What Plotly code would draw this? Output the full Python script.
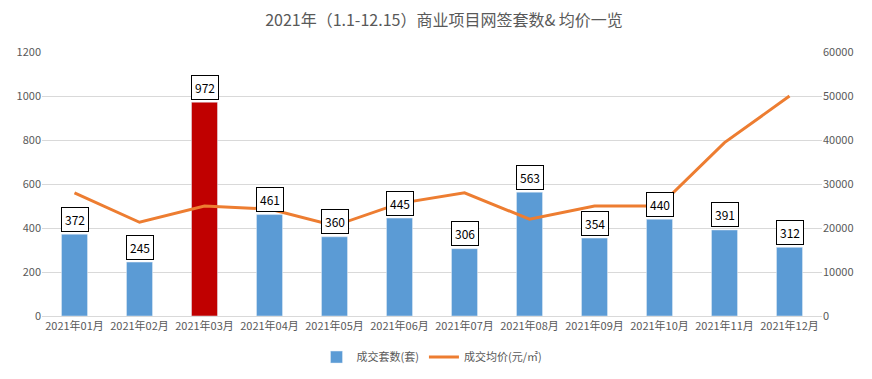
import plotly.graph_objects as go

months = ["2021年01月", "2021年02月", "2021年03月", "2021年04月", "2021年05月", "2021年06月",
          "2021年07月", "2021年08月", "2021年09月", "2021年10月", "2021年11月", "2021年12月"]
units = [372, 245, 972, 461, 360, 445, 306, 563, 354, 440, 391, 312]
prices = [28000, 21300, 25000, 24300, 20500, 25600, 28000, 22000, 25000, 25000, 39400, 50000]
highlight_month = "2021年03月"

font_family = "Noto Sans CJK SC, Microsoft YaHei, sans-serif"
bar_colors = ["#C00000" if m == highlight_month else "#5B9BD5" for m in months]

fig = go.Figure()
fig.add_trace(go.Bar(x=months, y=units, name="成交套数(套)", marker_color=bar_colors,
                     width=0.4, yaxis="y"))
fig.add_trace(go.Scatter(x=months, y=prices, name="成交均价(元/㎡)", mode="lines",
                         line=dict(color="#ED7D31", width=3), yaxis="y2"))

for m, v in zip(months, units):
    fig.add_annotation(x=m, y=v, xref="x", yref="y", text=str(v), showarrow=False,
                       yshift=15, bgcolor="white", bordercolor="black", borderwidth=1,
                       borderpad=3, font=dict(size=12, color="black", family=font_family))

fig.update_layout(
    width=872, height=379,
    margin=dict(l=34, r=58, t=44, b=71),
    paper_bgcolor="white", plot_bgcolor="white",
    title=dict(text="2021年（1.1-12.15）商业项目网签套数&amp; 均价一览", x=0.5, xanchor="center",
               y=0.968, yanchor="middle", font=dict(size=16, color="#595959", family=font_family)),
    font=dict(family=font_family, size=11, color="#595959"),
    bargap=0.6,
    showlegend=True,
    legend=dict(orientation="h", x=0.5, xanchor="center", yref="container", y=0.079,
                yanchor="middle", itemwidth=30, tracegroupgap=0,
                font=dict(size=11, color="#595959")),
    xaxis=dict(showgrid=False, showline=True, linecolor="#D9D9D9", ticks="", automargin=False,
               tickfont=dict(size=11, color="#595959")),
    yaxis=dict(range=[0, 1200], dtick=200, showgrid=True, gridcolor="#D9D9D9", automargin=False,
               zeroline=False, ticks="", tickfont=dict(size=11, color="#595959")),
    yaxis2=dict(range=[0, 60000], dtick=10000, overlaying="y", side="right", automargin=False,
                showgrid=False, zeroline=False, ticks="", tickformat="d",
                tickfont=dict(size=11, color="#595959")),
)

fig.write_html("out.html")
